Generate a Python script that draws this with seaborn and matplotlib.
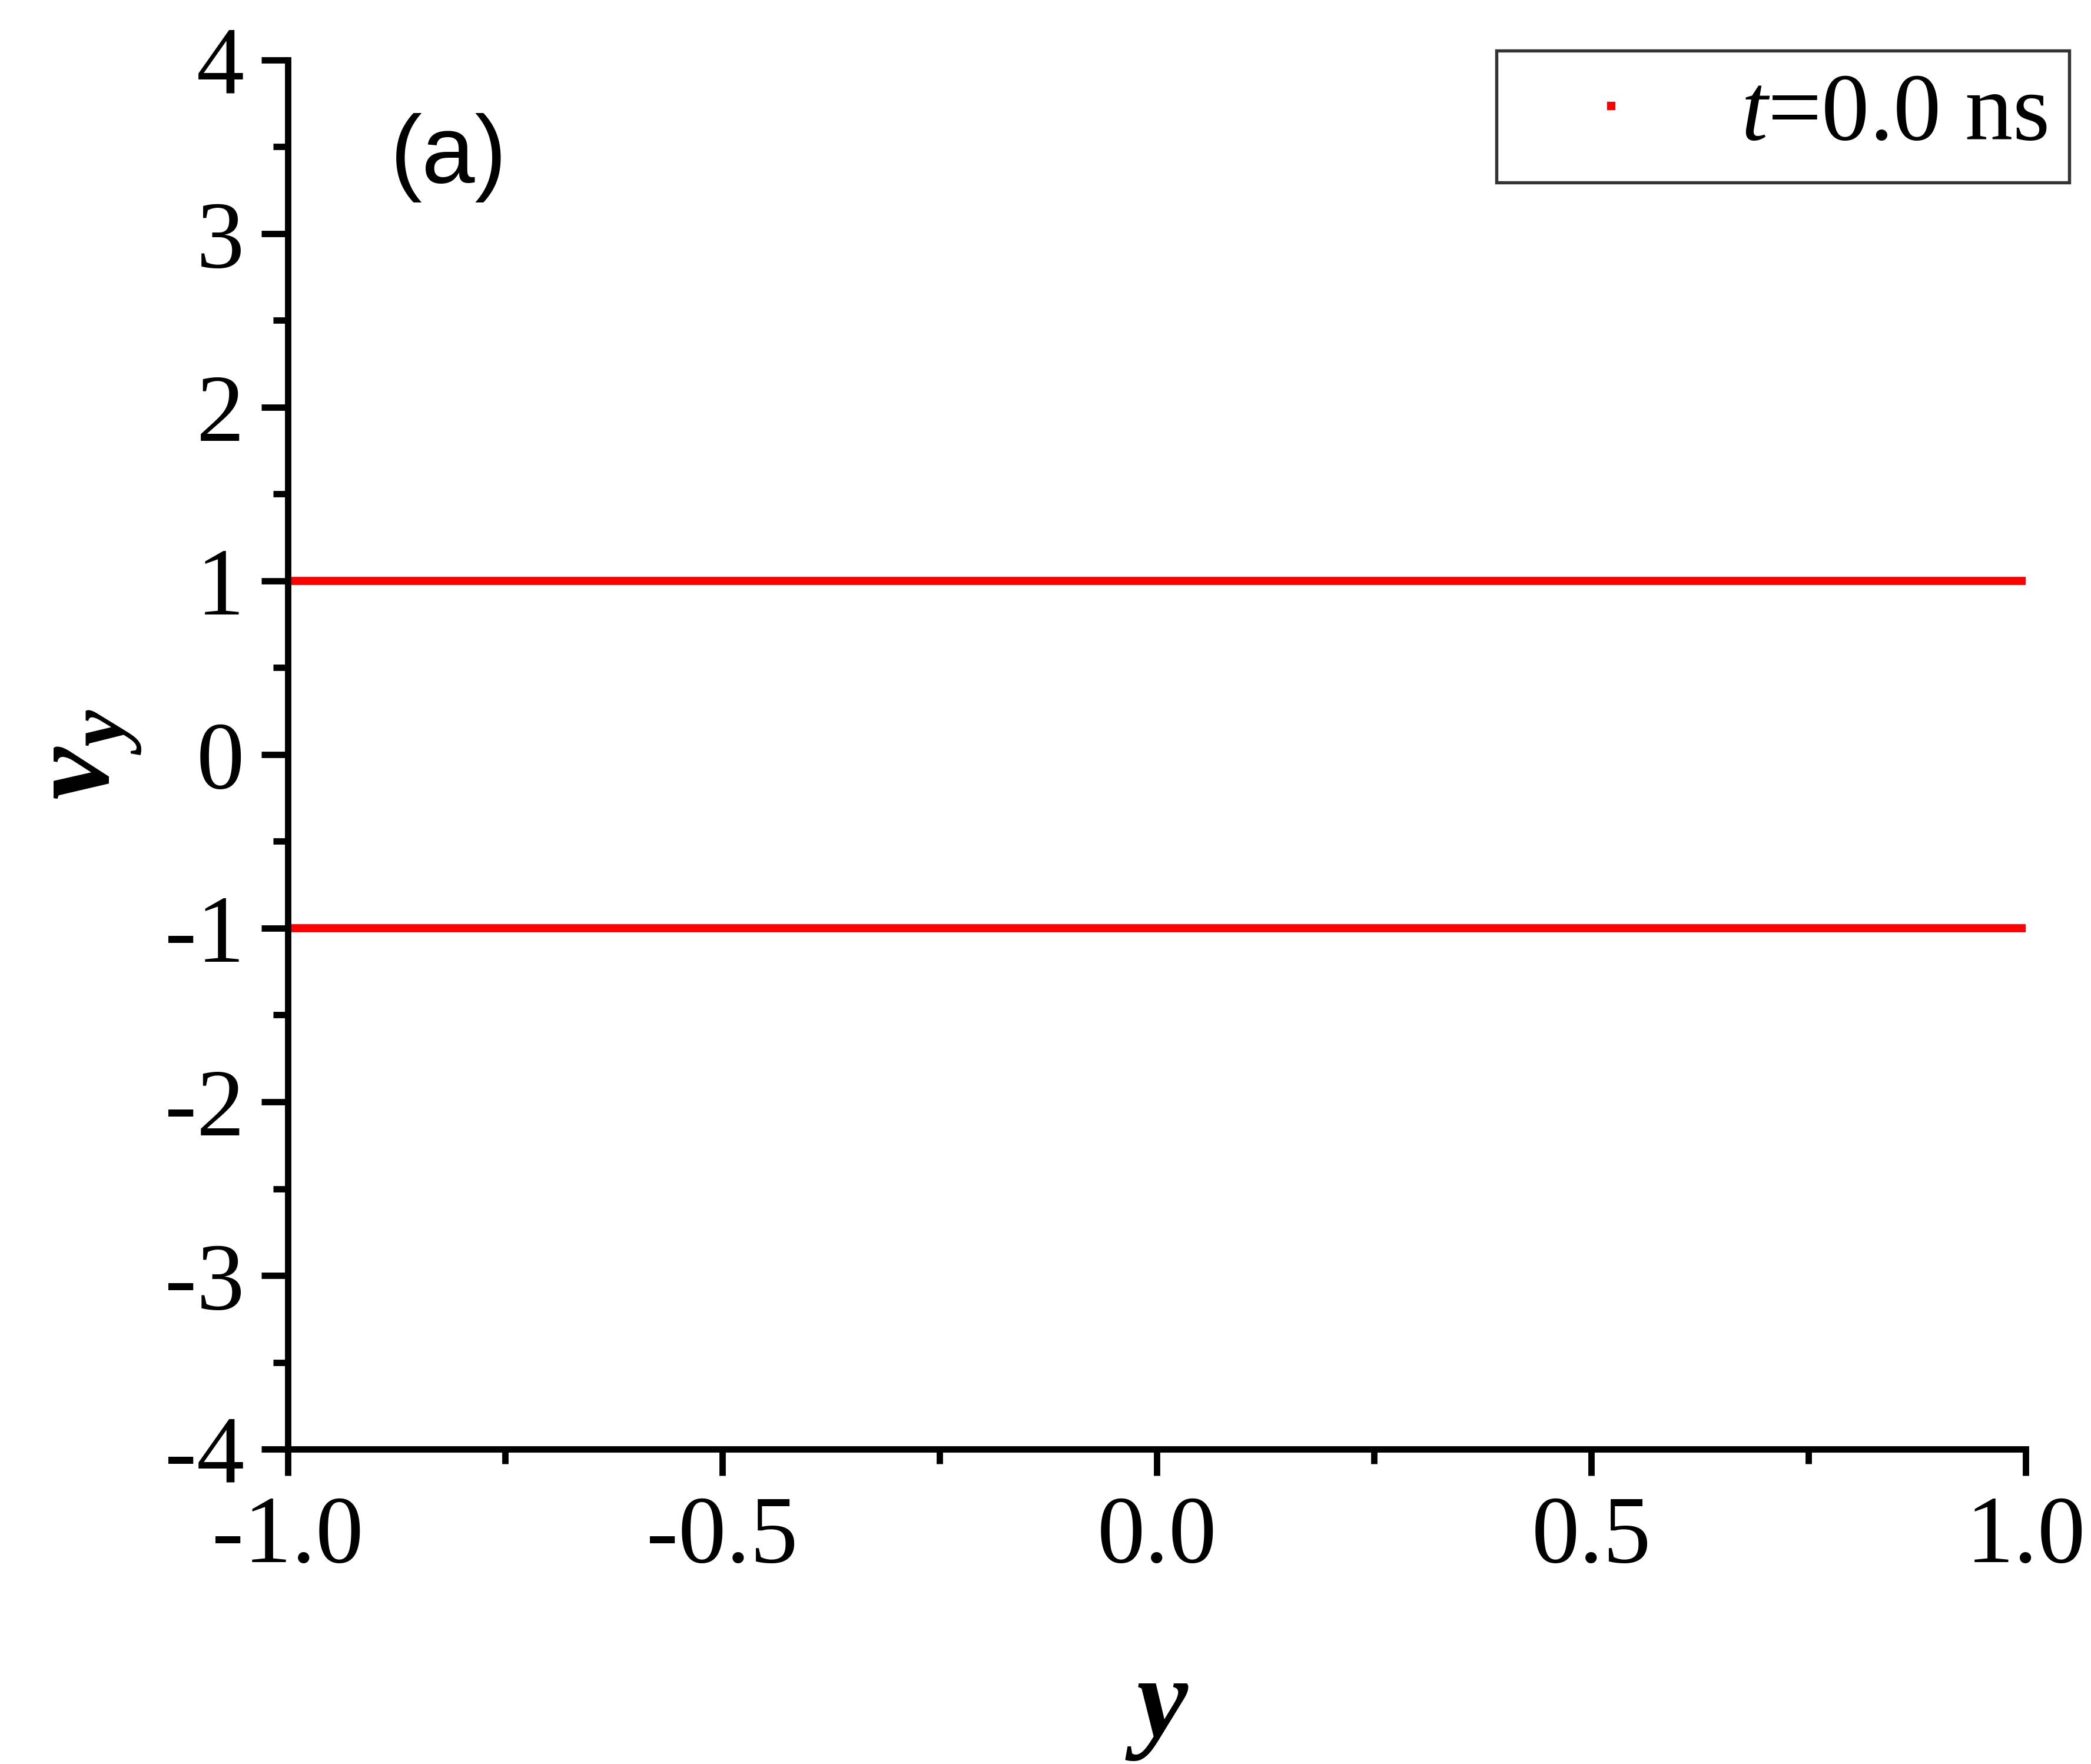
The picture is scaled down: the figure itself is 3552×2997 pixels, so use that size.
import numpy as np
import pandas as pd
import matplotlib
matplotlib.use('Agg')
import matplotlib.pyplot as plt
from matplotlib.lines import Line2D
from matplotlib.ticker import MultipleLocator, FormatStrFormatter
import seaborn as sns

# beam positions along y and their velocities v_y at t = 0.0 ns
y_pos = [-1.0, 1.0]
vy_upper = [1.0, 1.0]
vy_lower = [-1.0, -1.0]
legend_label = r'$\mathit{t}$=0.0 ns'

df = pd.DataFrame({
    'y': y_pos + y_pos,
    'vy': vy_upper + vy_lower,
    'beam': ['upper'] * len(y_pos) + ['lower'] * len(y_pos),
})

sns.set_style('ticks')
plt.rcParams['font.family'] = ['Liberation Serif', 'DejaVu Serif']
plt.rcParams['mathtext.fontset'] = 'custom'
plt.rcParams['mathtext.it'] = 'Liberation Serif:italic'
plt.rcParams['mathtext.bf'] = 'Liberation Serif:bold:italic'
plt.rcParams['mathtext.rm'] = 'Liberation Serif'
plt.rcParams['axes.unicode_minus'] = False
plt.rcParams['text.color'] = 'black'
plt.rcParams['axes.labelcolor'] = 'black'

fig = plt.figure(figsize=(11.84, 9.99), dpi=300)
ax = fig.add_axes([0.1377, 0.1785, 0.8311, 0.7875])

sns.lineplot(data=df, x='y', y='vy', units='beam', estimator=None,
             color='#ff0000', linewidth=3.3, legend=False, ax=ax)

ax.set_xlim(-1, 1)
ax.set_ylim(-4, 4)
ax.xaxis.set_major_locator(MultipleLocator(0.5))
ax.xaxis.set_minor_locator(MultipleLocator(0.25))
ax.yaxis.set_major_locator(MultipleLocator(1))
ax.yaxis.set_minor_locator(MultipleLocator(0.5))
ax.xaxis.set_major_formatter(FormatStrFormatter('%.1f'))
ax.yaxis.set_major_formatter(FormatStrFormatter('%d'))

sns.despine(ax=ax)
for s in ['left', 'bottom']:
    ax.spines[s].set_linewidth(2.6)
    ax.spines[s].set_color('black')
ax.tick_params(which='major', direction='out', length=10.8, width=2.6,
               labelsize=39, colors='black')
ax.tick_params(which='minor', direction='out', length=6, width=2.6, colors='black')
ax.tick_params(axis='x', which='major', pad=8)
ax.tick_params(axis='y', which='major', pad=7)

ax.set_xlabel(r'$\mathbf{y}$', fontsize=47)
ax.set_ylabel(r'$\mathbf{v}_\mathbf{y}$', fontsize=48)
ax.xaxis.set_label_coords(0.5, -0.15)
ax.yaxis.set_label_coords(-0.083, 0.5)

ax.text(0.059, 0.962, '(a)', transform=ax.transAxes, ha='left', va='top',
        fontsize=39, family='Liberation Sans')

handle = Line2D([], [], color='#ff0000', marker='s', markersize=2.4,
                linestyle='none')
leg = fig.legend([handle], [legend_label], loc='upper right',
                 bbox_to_anchor=(0.9896, 0.9713), borderaxespad=0,
                 fontsize=39, frameon=True, fancybox=False, edgecolor='black',
                 handlelength=1.94, handletextpad=0.38, borderpad=0.23)
leg.get_frame().set_linewidth(1.3)

fig.savefig('out.png', dpi=300, facecolor='white')
